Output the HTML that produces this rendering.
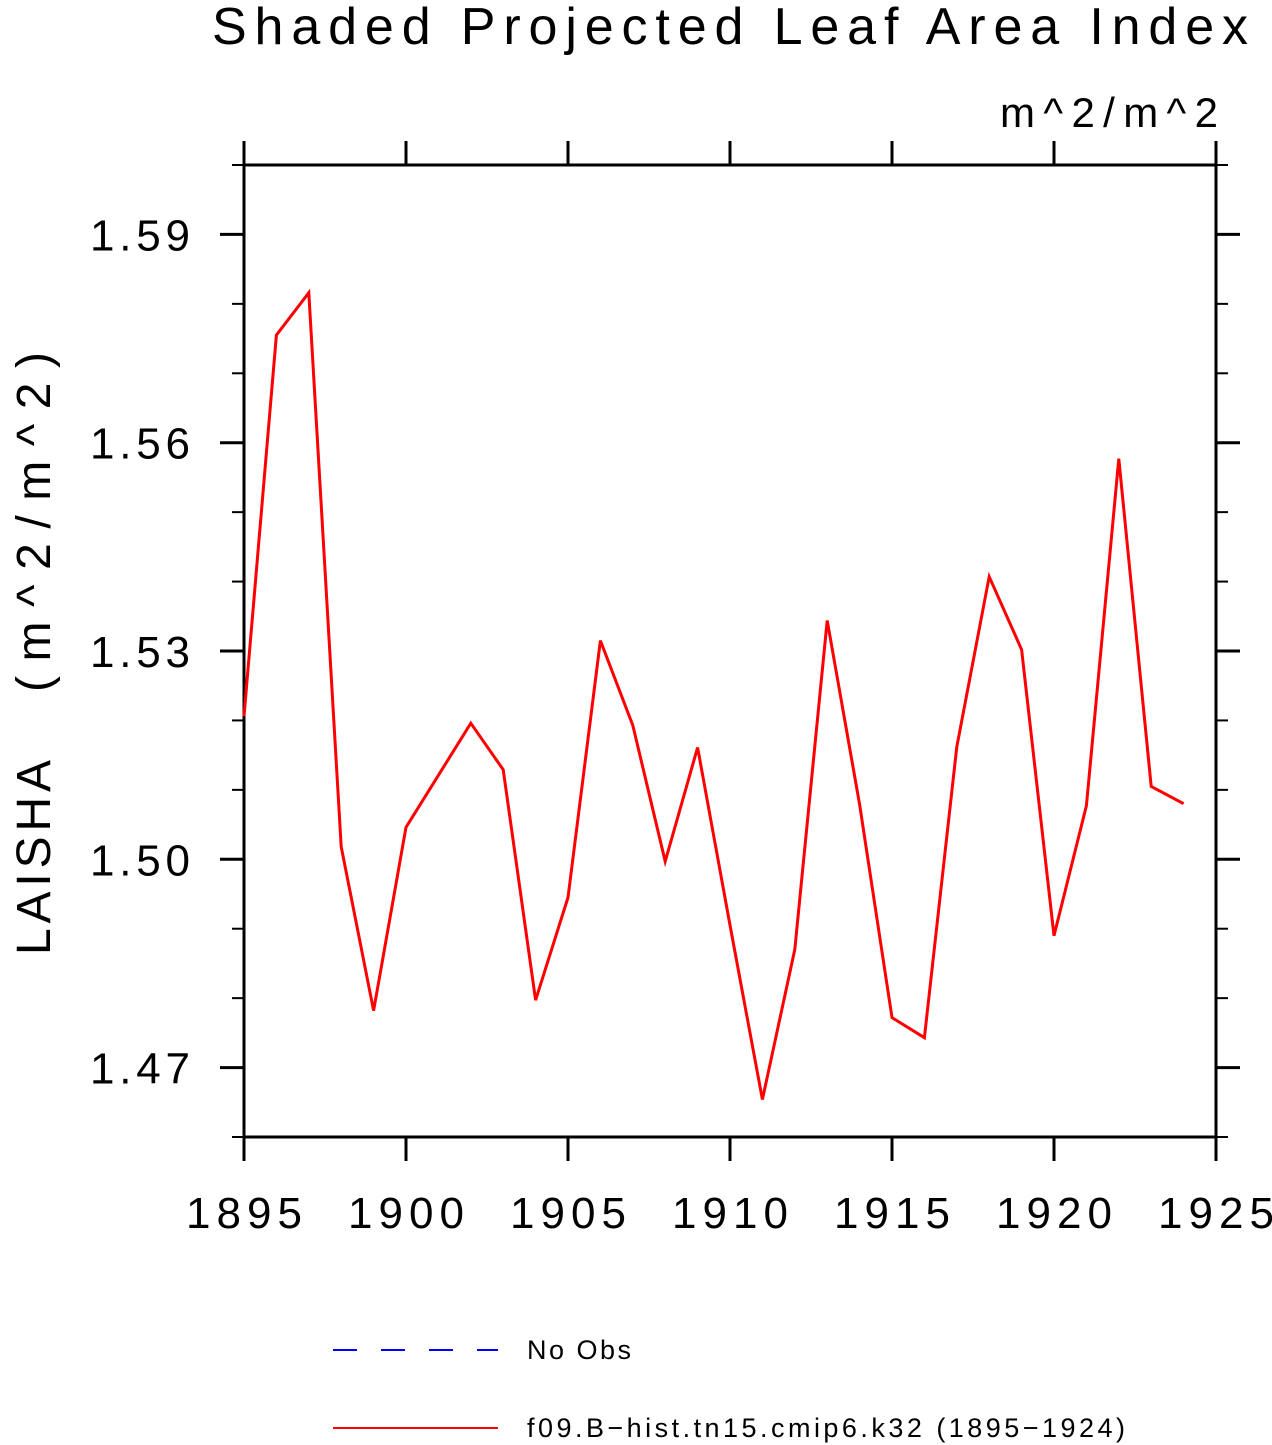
<!DOCTYPE html>
<html><head><meta charset="utf-8"><style>
html,body{margin:0;padding:0;background:#fff;}
svg{display:block;font-family:"Liberation Sans",sans-serif;}
</style></head><body>
<svg id="chart" width="1272" height="1445" viewBox="0 0 1272 1445">
<text x="212" y="44" font-size="52" fill="#000" textLength="1036" lengthAdjust="spacing">Shaded Projected Leaf Area Index</text>
<text x="1000" y="127" font-size="42" fill="#000" textLength="218" lengthAdjust="spacing">m^2/m^2</text>
<g transform="translate(50,0) rotate(-90)">
<text x="-955" y="0" font-size="48" fill="#000" textLength="195" lengthAdjust="spacing">LAISHA</text>
<text x="-692" y="0" font-size="48" fill="#000" textLength="340" lengthAdjust="spacing">(m^2/m^2)</text>
</g>
<g id="axes"></g>
<g id="series"></g>
<g>
<line x1="333" y1="1350" x2="498" y2="1350" stroke="#0000ff" stroke-width="2" stroke-dasharray="24,24"/>
<text x="527" y="1359" font-size="27" fill="#000" textLength="104" lengthAdjust="spacing">No Obs</text>
<line x1="333" y1="1428" x2="498" y2="1428" stroke="#ff0000" stroke-width="2"/>
<text x="527" y="1437" font-size="27" fill="#000" textLength="598" lengthAdjust="spacing">f09.B−hist.tn15.cmip6.k32 (1895−1924)</text>
</g>
</svg>
<script>
const years = [1895,1896,1897,1898,1899,1900,1901,1902,1903,1904,1905,1906,1907,1908,1909,1910,1911,1912,1913,1914,1915,1916,1917,1918,1919,1920,1921,1922,1923,1924];
const values = [1.5206,1.5755,1.5816,1.5018,1.4782,1.5046,1.5121,1.5196,1.5129,1.4797,1.4945,1.5315,1.5193,1.4997,1.5161,1.4905,1.4654,1.4870,1.5344,1.5079,1.4772,1.4743,1.5162,1.5407,1.5302,1.4890,1.5077,1.5577,1.5105,1.5080];
const xTicks = [1895,1900,1905,1910,1915,1920,1925];
const yTicks = [1.47,1.50,1.53,1.56,1.59];
const yTickLabels = ["1.47","1.50","1.53","1.56","1.59"];
const yMinor = [1.46,1.47,1.48,1.49,1.50,1.51,1.52,1.53,1.54,1.55,1.56,1.57,1.58,1.59,1.60];
const L=244,R=1216,T=165,B=1137, X0=1895,X1=1925, Y0=1.46,Y1=1.60;
const sx=v=>L+(v-X0)/(X1-X0)*(R-L);
const sy=v=>B-(v-Y0)/(Y1-Y0)*(B-T);
const NS="http://www.w3.org/2000/svg";
const axes=document.getElementById('axes');
function mk(tag,attrs,parent){const e=document.createElementNS(NS,tag);for(const k in attrs)e.setAttribute(k,attrs[k]);parent.appendChild(e);return e;}
const frame=mk('rect',{x:L,y:T,width:R-L,height:B-T,fill:'none',stroke:'#000','stroke-width':3},axes);


yMinor.forEach(v=>{const y=sy(v);
 const a=mk('line',{x1:L-12,y1:y,x2:L,y2:y,stroke:'#000','stroke-width':2},axes);
 
 
 const b=mk('line',{x1:R,y1:y,x2:R+12,y2:y,stroke:'#000','stroke-width':2},axes);
 
 
});
yTicks.forEach((v,i)=>{const y=sy(v);
 const a=mk('line',{x1:L-24,y1:y,x2:L,y2:y,stroke:'#000','stroke-width':3},axes);
 
 
 const b=mk('line',{x1:R,y1:y,x2:R+24,y2:y,stroke:'#000','stroke-width':3},axes);
 
 
 const t=mk('text',{x:90,y:y+16,'font-size':44,fill:'#000',textLength:100,lengthAdjust:'spacing'},axes);
 t.textContent=yTickLabels[i];
 
 
});
xTicks.forEach(v=>{const x=sx(v);
 const a=mk('line',{x1:x,y1:B,x2:x,y2:B+24,stroke:'#000','stroke-width':3},axes);
 
 
 const b=mk('line',{x1:x,y1:T-24,x2:x,y2:T,stroke:'#000','stroke-width':3},axes);
 
 
 const t=mk('text',{x:x-58,y:1228,'font-size':44,fill:'#000',textLength:116,lengthAdjust:'spacing'},axes);
 t.textContent=String(v);
 
 
});
const pts=years.map((yr,i)=>sx(yr).toFixed(1)+','+sy(values[i]).toFixed(1)).join(' ');
const line=mk('polyline',{points:pts,fill:'none',stroke:'#ff0000','stroke-width':3,'stroke-linejoin':'miter'},document.getElementById('series'));


</script>
</body></html>
